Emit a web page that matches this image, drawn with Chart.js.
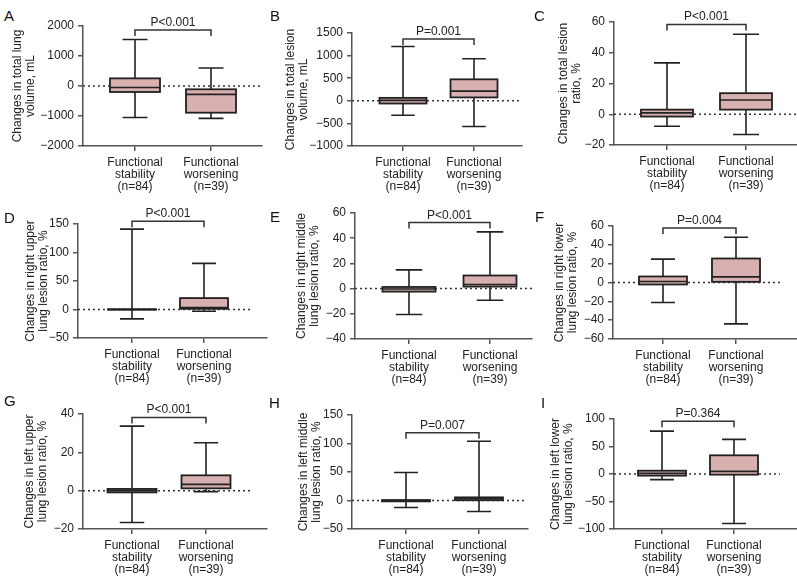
<!DOCTYPE html>
<html>
<head>
<meta charset="utf-8">
<script src="https://cdn.jsdelivr.net/npm/chart.js@4/dist/chart.umd.min.js"></script>
<style>
  html, body { margin:0; padding:0; background:#fff; }
  #wrap { position:relative; width:797px; height:577px; overflow:hidden; }
  canvas { position:absolute; left:0; top:0; }
  .letter { position:absolute; font-family:"Liberation Sans", Arial, sans-serif; font-size:15px; line-height:15px; color:#111; }
</style>
</head>
<body>
<div id="wrap"></div>
<script>
// ---------------- DATA ----------------
const categories = [['Functional', 'stability', '(n=84)'], ['Functional', 'worsening', '(n=39)']];
const panelLetters = ['A', 'B', 'C', 'D', 'E', 'F', 'G', 'H', 'I'];
const yTitles = [
  ['Changes in total lung', 'volume, mL'],
  ['Changes in total lesion', 'volume, mL'],
  ['Changes in total lesion', 'ratio, %'],
  ['Changes in right upper', 'lung lesion ratio, %'],
  ['Changes in right middle', 'lung lesion ratio, %'],
  ['Changes in right lower', 'lung lesion ratio, %'],
  ['Changes in left upper', 'lung lesion ratio, %'],
  ['Changes in left middle', 'lung lesion ratio, %'],
  ['Changes in left lower', 'lung lesion ratio, %']
];
const pLabels = ['P<0.001', 'P=0.001', 'P<0.001', 'P<0.001', 'P<0.001', 'P=0.004', 'P<0.001', 'P=0.007', 'P=0.364'];
const pLevel = [1870, 1365, 58.4, 155, 52.4, 58, 38.2, 118.7, 95.8];
const yMin = [-2000, -1000, -20, -50, -40, -60, -20, -50, -100];
const yMax = [2000, 1500, 60, 150, 60, 60, 40, 150, 100];
const yStep = [1000, 500, 20, 50, 20, 20, 20, 50, 50];
// [lower whisker, Q1, median, Q3, upper whisker]
const stabilityStats = [
  [-1050, -200, -50, 255, 1550],
  [-320, -60, 10, 65, 1200],
  [-7.8, -1.5, 0.9, 3.0, 33.4],
  [-16.4, -0.3, 0, 0.5, 141],
  [-20.5, -2.4, -0.3, 1.3, 14.9],
  [-21.2, -2.1, 1.1, 6.4, 24.8],
  [-16.6, -0.9, 0, 0.9, 33.7],
  [-12.3, -1.5, -0.5, 0.8, 49],
  [-10.3, -3, 1.2, 6, 78]
];
const worseningStats = [
  [-1080, -890, -280, -110, 600],
  [-570, 75, 215, 475, 930],
  [-13.2, 3.0, 9.3, 13.7, 52],
  [-3, 1.2, 3.5, 20, 81],
  [-9.3, 1.6, 3.2, 10.4, 45],
  [-43.9, 0.7, 6.0, 25.5, 48.1],
  [-0.5, 1.2, 3.3, 8.0, 25],
  [-19.3, 0.5, 3.0, 5.5, 104],
  [-90, -1.2, 4.8, 34, 63]
];

// ---------------- LAYOUT (page pixels) ----------------
const layout = [
  {left: 83,  top: 26,  bottom: 146, right: 262, c1: 135, c2: 211, dotEnd: 261, titleX: 18,  lx: 4,   ly: 10},
  {left: 352, top: 33,  bottom: 146, right: 522, c1: 403, c2: 474, dotEnd: 520, titleX: 291, lx: 270, ly: 10},
  {left: 614, top: 22,  bottom: 145, right: 797, c1: 667, c2: 746, dotEnd: 797, titleX: 564, lx: 534, ly: 10},
  {left: 78,  top: 224, bottom: 338, right: 267, c1: 132, c2: 204, dotEnd: 252, titleX: 31,  lx: 4,   ly: 212},
  {left: 355, top: 213, bottom: 339, right: 532, c1: 409, c2: 490, dotEnd: 532, titleX: 302, lx: 270, ly: 211},
  {left: 613, top: 226, bottom: 339, right: 797, c1: 663, c2: 736, dotEnd: 782, titleX: 560, lx: 535, ly: 211},
  {left: 83,  top: 414, bottom: 529, right: 267, c1: 132, c2: 206, dotEnd: 253, titleX: 30,  lx: 4,   ly: 395},
  {left: 352, top: 415, bottom: 529, right: 528, c1: 406, c2: 479, dotEnd: 526, titleX: 304, lx: 269, ly: 397},
  {left: 614, top: 419, bottom: 529, right: 797, c1: 662, c2: 734, dotEnd: 780, titleX: 556, lx: 541, ly: 397}
];

const W = 797, H = 577, YW = 75, XH = 48;
const FONT = '"Liberation Sans", Arial, Helvetica, sans-serif';
const TXT = '#222';
const AXIS = '#555';
const BOX_FILL = '#d8b0b0';
const BOX_LINE = '#222';

const boxPlugin = {
  id: 'boxExtras',
  beforeDatasetsDraw(chart) {
    const o = chart.options.plugins.boxExtras;
    const {ctx} = chart, x = chart.scales.x, y = chart.scales.y;
    const y0 = y.getPixelForValue(0);
    ctx.save();
    ctx.setLineDash([2, 3]);
    ctx.lineWidth = 1.5;
    ctx.strokeStyle = '#333';
    ctx.beginPath();
    ctx.moveTo(x.left, y0);
    ctx.lineTo(Math.min(x.getPixelForValue(o.dotEnd), W), y0);
    ctx.stroke();
    ctx.restore();
  },
  afterDatasetsDraw(chart) {
    const o = chart.options.plugins.boxExtras;
    const {ctx} = chart, x = chart.scales.x, y = chart.scales.y;
    const meta = chart.getDatasetMeta(0);
    ctx.save();
    ctx.strokeStyle = BOX_LINE;
    ctx.lineCap = 'butt';
    o.stats.forEach((s, i) => {
      const bar = meta.data[i];
      const cx = x.getPixelForValue(i + 1);
      const bw = bar.width;
      const [lo, q1, med, q3, hi] = s.map(v => y.getPixelForValue(v));
      // box outline (centred on edges, so thin boxes read as thick bars)
      ctx.lineWidth = 1.8;
      ctx.strokeRect(cx - bw / 2, q3, bw, q1 - q3);
      // whiskers and caps
      ctx.lineWidth = 1.6;
      ctx.beginPath();
      ctx.moveTo(cx, q3); ctx.lineTo(cx, hi);
      ctx.moveTo(cx, q1); ctx.lineTo(cx, lo);
      ctx.moveTo(cx - bw / 4, hi); ctx.lineTo(cx + bw / 4, hi);
      ctx.moveTo(cx - bw / 4, lo); ctx.lineTo(cx + bw / 4, lo);
      ctx.stroke();
      // median
      ctx.beginPath();
      ctx.moveTo(cx - bw / 2, med); ctx.lineTo(cx + bw / 2, med);
      ctx.stroke();
    });
    // significance bracket
    const x1 = x.getPixelForValue(1), x2 = x.getPixelForValue(2);
    const yb = y.getPixelForValue(o.pLevel);
    ctx.strokeStyle = '#333';
    ctx.lineWidth = 1.5;
    ctx.beginPath();
    ctx.moveTo(x1, yb + 6); ctx.lineTo(x1, yb); ctx.lineTo(x2, yb); ctx.lineTo(x2, yb + 6);
    ctx.stroke();
    ctx.fillStyle = TXT;
    ctx.font = '12px ' + FONT;
    ctx.textAlign = 'center';
    ctx.textBaseline = 'alphabetic';
    ctx.fillText(o.pLabel, (x1 + x2) / 2, yb - 4);
    ctx.restore();
  }
};

const wrap = document.getElementById('wrap');
const fmt = v => (v < 0 ? '\u2212' + Math.abs(v) : String(v));

panelLetters.forEach((letter, k) => {
  const L = layout[k];
  const unit = L.c2 - L.c1;
  const xmin = 1 - (L.c1 - L.left) / unit;
  const xmax = 1 + (L.right - L.c1) / unit;
  const dotEnd = 1 + (L.dotEnd - L.c1) / unit;
  const lh = 12 * 1.05;
  const padLeft = L.left - YW;
  const titlePadTop = Math.max(0, L.titleX - padLeft - lh / 2);

  const div = document.createElement('div');
  div.className = 'letter';
  div.style.left = L.lx + 'px';
  div.style.top = (L.ly - 2) + 'px';
  div.textContent = letter;
  wrap.appendChild(div);

  const cv = document.createElement('canvas');
  cv.width = W; cv.height = H;
  cv.style.width = W + 'px'; cv.style.height = H + 'px';
  wrap.appendChild(cv);

  const stats = [stabilityStats[k], worseningStats[k]];
  new Chart(cv.getContext('2d'), {
    type: 'bar',
    data: {
      datasets: [{
        data: stats.map((s, i) => ({x: i + 1, y: [s[1], s[3]]})),
        backgroundColor: BOX_FILL,
        borderWidth: 0,
        borderSkipped: false,
        barThickness: Math.round(unit * 0.66)
      }]
    },
    options: {
      responsive: false,
      animation: false,
      events: [],
      layout: {padding: {left: padLeft, top: L.top, right: W - L.right, bottom: H - L.bottom - XH}},
      plugins: {
        legend: {display: false},
        tooltip: {enabled: false},
        boxExtras: {stats: stats, pLevel: pLevel[k], pLabel: pLabels[k], dotEnd: dotEnd}
      },
      scales: {
        x: {
          type: 'linear',
          offset: false,
          bounds: 'data',
          min: xmin, max: xmax,
          afterBuildTicks: s => { s.ticks = [{value: 1}, {value: 2}]; },
          afterFit: s => { s.height = XH; },
          ticks: {
            callback: v => categories[v - 1],
            font: {family: FONT, size: 12, lineHeight: 0.98},
            color: TXT, padding: 6, maxRotation: 0, autoSkip: false
          },
          grid: {offset: false, drawOnChartArea: false, drawTicks: true, tickLength: 5, color: AXIS, lineWidth: 1.5},
          border: {display: true, color: AXIS, width: 1.5}
        },
        y: {
          type: 'linear',
          min: yMin[k], max: yMax[k],
          afterFit: s => { s.width = YW; },
          ticks: {stepSize: yStep[k], callback: fmt, font: {family: FONT, size: 12}, color: TXT, padding: 4},
          grid: {drawOnChartArea: false, drawTicks: true, tickLength: 5, color: AXIS, lineWidth: 1.5},
          border: {display: true, color: AXIS, width: 1.5},
          title: {
            display: true,
            text: yTitles[k],
            font: {family: FONT, size: 12, lineHeight: 1.05},
            color: TXT,
            padding: {top: titlePadTop, bottom: 0}
          }
        }
      }
    },
    plugins: [boxPlugin]
  });
});
</script>
</body>
</html>
